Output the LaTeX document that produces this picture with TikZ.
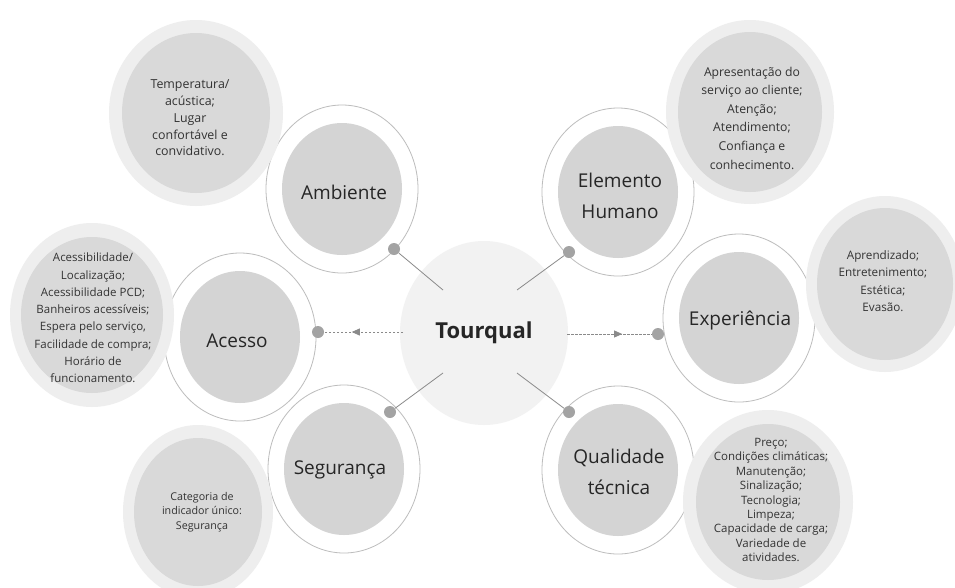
\documentclass[tikz,border=0pt]{standalone}
\usepackage{fontspec}
\setmainfont{Open Sans}
\usetikzlibrary{shapes.geometric,arrows.meta,decorations.markings}

\definecolor{hubfill}{HTML}{F2F2F2}
\definecolor{corefill}{HTML}{D4D4D4}
\definecolor{ringline}{HTML}{BDBDBD}
\definecolor{halofill}{HTML}{EEEEEE}
\definecolor{detailfill}{HTML}{D9D9D9}
\definecolor{dotfill}{HTML}{A3A3A3}
\definecolor{linkline}{HTML}{8A8A8A}
\definecolor{labelink}{HTML}{262626}
\definecolor{detailink}{HTML}{333333}

\begin{document}
\begin{tikzpicture}[x=1pt,y=-1pt,
  hub/.style={ellipse, inner sep=0pt, minimum width=168pt, minimum height=184pt,
    fill=hubfill, text=labelink, font=\fontsize{22}{26}\selectfont\bfseries},
  ring/.style={ellipse, inner sep=0pt, minimum width=152pt, minimum height=168pt,
    draw=ringline, line width=0.8pt, fill=white},
  core/.style={ellipse, inner sep=0pt, minimum width=120pt, minimum height=132pt,
    fill=corefill},
  halo/.style 2 args={ellipse, inner sep=0pt, minimum width=#1pt, minimum height=#2pt,
    fill=halofill},
  detail/.style 2 args={ellipse, inner sep=0pt, minimum width=#1pt, minimum height=#2pt,
    fill=detailfill},
  catlabel/.style={inner sep=0pt, align=center, text=labelink,
    font=\fontsize{19}{31}\selectfont},
  detailtext/.style 2 args={inner sep=0pt, align=center, text=detailink,
    font=\fontsize{#1}{#2}\selectfont},
  dot/.style={circle, inner sep=0pt, minimum size=12pt, fill=dotfill},
  link/.style={draw=linkline, line width=0.8pt},
  flow/.style={draw=linkline, line width=0.8pt, dash pattern=on 2.5pt off 1.5pt,
    postaction={decorate},
    decoration={markings, mark=at position 0.65 with
      {\arrow[fill=linkline,draw=linkline]{Triangle[length=8pt,width=7pt]}}}}
]
\useasboundingbox (0,0) rectangle (955,587);
\fill[white] (0,0) rectangle (955,587);

% central hub
\node[hub] (tour) at (484,333) {Tourqual};

% category rings
\node[ring] (amb) at (342,189) {};
\node[core] at (amb) {};
\node[ring] (hum) at (618,192) {};
\node[core] at (hum) {};
\node[ring] (acc) at (240,337) {};
\node[core] at (acc) {};
\node[ring] (exp) at (739,318) {};
\node[core] at (exp) {};
\node[ring] (seg) at (344,469) {};
\node[core] at (seg) {};
\node[ring] (tec) at (618,470) {};
\node[core] at (tec) {};

% detail bubbles
\node[halo={174}{186}] (ambd) at (196,113) {};
\node[detail={148}{160}] at (ambd) {};
\node[halo={168}{184}] (humd) at (750,112) {};
\node[detail={144}{160}] at (humd) {};
\node[halo={164}{184}] (accd) at (92,315) {};
\node[detail={142}{156}] at (accd) {};
\node[halo={158}{176}] (expd) at (885,284) {};
\node[detail={136}{152}] at (expd) {};
\node[halo={150}{174}] (segd) at (198,512) {};
\node[detail={128}{148}] at (segd) {};
\node[halo={170}{184}] (tecd) at (768,502) {};
\node[detail={144}{156}] at (tecd) {};

% connectors from the hub to each category
\coordinate (tour-amb) at (443,290);
\coordinate (tour-hum) at (517,290);
\coordinate (tour-seg) at (443,373);
\coordinate (tour-tec) at (517,373);
\coordinate (tour-acc) at (403,332);
\coordinate (tour-exp) at (567,334);

\node[dot] (ambdot) at (394,249) {};
\node[dot] (humdot) at (569,252) {};
\node[dot] (segdot) at (390,412) {};
\node[dot] (tecdot) at (569,412) {};
\node[dot] (accdot) at (318,332) {};
\node[dot] (expdot) at (658,334) {};

\draw[link] (tour-amb) -- (ambdot);
\draw[link] (tour-hum) -- (humdot);
\draw[link] (tour-seg) -- (segdot);
\draw[link] (tour-tec) -- (tecdot);
\draw[flow] (tour-acc) -- (accdot);
\draw[flow] (tour-exp) -- (expdot);

% category labels
\node[catlabel] (amblbl) at (344,192) {Ambiente};
\node[catlabel] (humlbl) at (620,196) {Elemento\\Humano};
\node[catlabel] (acclbl) at (237,341) {Acesso};
\node[catlabel] (explbl) at (740,320) {Experiência};
\node[catlabel] (seglbl) at (340,470) {Segurança};
\node[catlabel] (teclbl) at (619,472) {Qualidade\\técnica};

% detail texts
\node[detailtext={12.4}{16.7}] (ambtxt) at (190,118)
  {Temperatura/\\acústica;\\Lugar\\confortável e\\convidativo.};
\node[detailtext={12.2}{18.6}] (humtxt) at (752,118)
  {Apresentação do\\serviço ao cliente;\\Atenção;\\Atendimento;\\Confiança e\\conhecimento.};
\node[detailtext={11.5}{17.3}] (acctxt) at (93,318)
  {Acessibilidade/\\Localização;\\Acessibilidade PCD;\\Banheiros acessíveis;\\Espera pelo serviço,\\Facilidade de compra;\\Horário de\\funcionamento.};
\node[detailtext={11.7}{17.3}] (exptxt) at (883,281)
  {Aprendizado;\\Entretenimento;\\Estética;\\Evasão.};
\node[detailtext={10.7}{14.5}] (segtxt) at (202,512)
  {Categoria de\\indicador único:\\Segurança};
\node[detailtext={11.5}{14.4}] (tectxt) at (771,500)
  {Preço;\\Condições climáticas;\\Manutenção;\\Sinalização;\\Tecnologia;\\Limpeza;\\Capacidade de carga;\\Variedade de\\atividades.};
\end{tikzpicture}
\end{document}
